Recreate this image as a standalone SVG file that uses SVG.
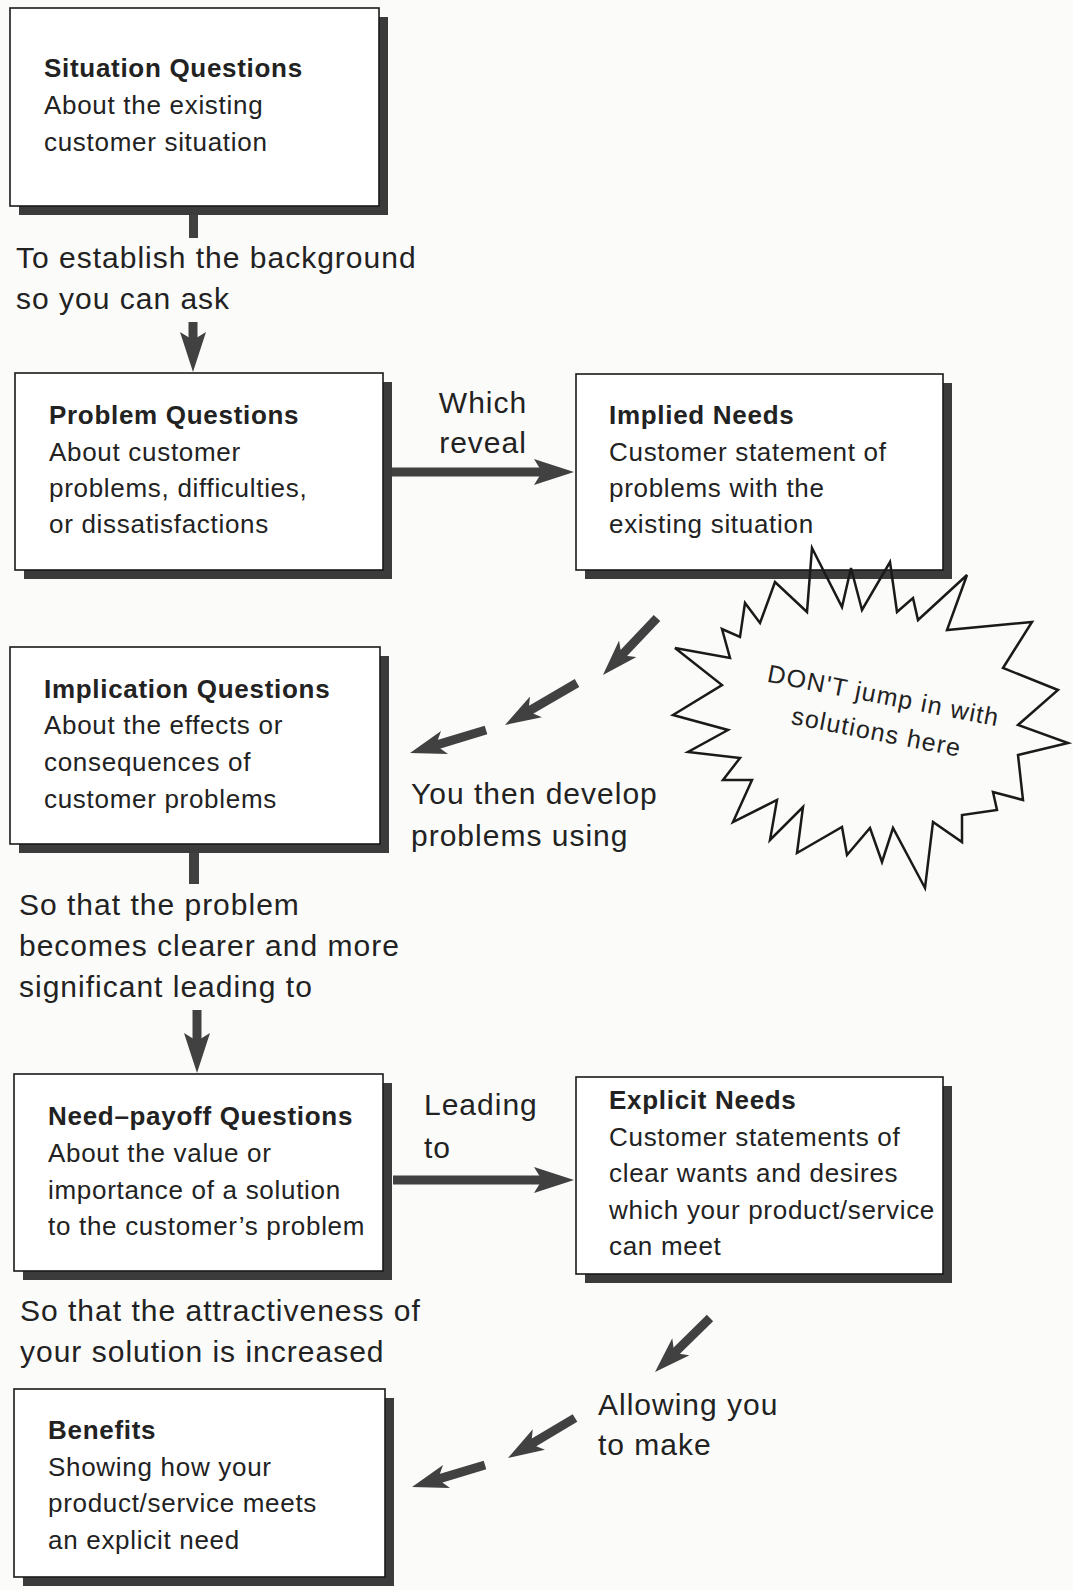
<svg xmlns="http://www.w3.org/2000/svg" width="1073" height="1590" viewBox="0 0 1073 1590">
<style>
.bg{fill:#fbfbf9}
.shadow{fill:#3b3b3b}
.box{fill:#ffffff;stroke:#1a1a1a;stroke-width:1.6}
.t{font-family:"Liberation Sans",Arial,sans-serif;font-size:26px;fill:#222;letter-spacing:0.7px}
.b{font-weight:bold}
.lbl{font-family:"Liberation Sans",Arial,sans-serif;font-size:30px;fill:#222;letter-spacing:1px}
.conn{stroke:#414141;stroke-width:9;fill:none;stroke-linecap:butt}
.big{marker-end:url(#ah)}
.small{marker-end:url(#ahs)}
.bar{fill:#414141}
.burst{fill:none;stroke:#1a1a1a;stroke-width:2.5;stroke-linejoin:miter}
.bt{font-family:"Liberation Sans",Arial,sans-serif;font-size:25px;fill:#222;letter-spacing:1.2px}
</style>
<defs>
<marker id="ah" markerUnits="userSpaceOnUse" viewBox="0 0 40 26" markerWidth="40" markerHeight="26" refX="13" refY="13" orient="auto">
<path d="M0,0 L40,13 L0,26 L8,13 Z" fill="#414141"/>
</marker>
<marker id="ahs" markerUnits="userSpaceOnUse" viewBox="0 0 36 24" markerWidth="36" markerHeight="24" refX="14" refY="12" orient="auto">
<path d="M0,0 L36,12 L0,24 L9,12 Z" fill="#414141"/>
</marker>
</defs>
<rect class="bg" x="0" y="0" width="1073" height="1590"/>

<g id="connectors">
<rect class="bar" x="189" y="206" width="9" height="32"/>
<line class="conn big" x1="193" y1="322" x2="193" y2="345"/>
<line class="conn big" x1="392" y1="472" x2="547" y2="472"/>
<line class="conn small" x1="657" y1="618" x2="618.1" y2="659"/>
<line class="conn small" x1="577" y1="683" x2="524" y2="713.9"/>
<line class="conn small" x1="486" y1="730" x2="431.1" y2="746.6"/>
<rect class="bar" x="189" y="844" width="10" height="40"/>
<line class="conn big" x1="197" y1="1010" x2="197" y2="1046"/>
<line class="conn big" x1="393" y1="1180" x2="547" y2="1180"/>
<line class="conn small" x1="710" y1="1318" x2="670.7" y2="1356.6"/>
<line class="conn small" x1="575" y1="1418" x2="526.9" y2="1446.7"/>
<line class="conn small" x1="485" y1="1465" x2="433.1" y2="1480.6"/>
</g>

<g id="situation">
<rect class="shadow" x="19" y="17" width="369" height="198"/>
<rect class="box" x="10" y="8" width="369" height="198"/>
<text class="t b" x="44" y="77">Situation Questions</text>
<text class="t" x="44" y="114">About the existing</text>
<text class="t" x="44" y="151">customer situation</text>
</g>

<g id="problem">
<rect class="shadow" x="24" y="382" width="368" height="197"/>
<rect class="box" x="15" y="373" width="368" height="197"/>
<text class="t b" x="49" y="424">Problem Questions</text>
<text class="t" x="49" y="461">About customer</text>
<text class="t" x="49" y="497">problems, difficulties,</text>
<text class="t" x="49" y="533">or dissatisfactions</text>
</g>

<g id="implied">
<rect class="shadow" x="585" y="383" width="367" height="196"/>
<rect class="box" x="576" y="374" width="367" height="196"/>
<text class="t b" x="609" y="424">Implied Needs</text>
<text class="t" x="609" y="461">Customer statement of</text>
<text class="t" x="609" y="497">problems with the</text>
<text class="t" x="609" y="533">existing situation</text>
</g>

<g id="implication">
<rect class="shadow" x="19" y="656" width="370" height="197"/>
<rect class="box" x="10" y="647" width="370" height="197"/>
<text class="t b" x="44" y="698">Implication Questions</text>
<text class="t" x="44" y="734">About the effects or</text>
<text class="t" x="44" y="771">consequences of</text>
<text class="t" x="44" y="808">customer problems</text>
</g>

<g id="needpayoff">
<rect class="shadow" x="23" y="1083" width="369" height="197"/>
<rect class="box" x="14" y="1074" width="369" height="197"/>
<text class="t b" x="48" y="1125">Need–payoff Questions</text>
<text class="t" x="48" y="1162">About the value or</text>
<text class="t" x="48" y="1199">importance of a solution</text>
<text class="t" x="48" y="1235">to the customer’s problem</text>
</g>

<g id="explicit">
<rect class="shadow" x="585" y="1086" width="367" height="197"/>
<rect class="box" x="576" y="1077" width="367" height="197"/>
<text class="t b" x="609" y="1109">Explicit Needs</text>
<text class="t" x="609" y="1146">Customer statements of</text>
<text class="t" x="609" y="1182">clear wants and desires</text>
<text class="t" x="609" y="1219">which your product/service</text>
<text class="t" x="609" y="1255">can meet</text>
</g>

<g id="benefits">
<rect class="shadow" x="23" y="1398" width="371" height="188"/>
<rect class="box" x="14" y="1389" width="371" height="188"/>
<text class="t b" x="48" y="1439">Benefits</text>
<text class="t" x="48" y="1476">Showing how your</text>
<text class="t" x="48" y="1512">product/service meets</text>
<text class="t" x="48" y="1549">an explicit need</text>
</g>

<g id="callout">
<polygon class="burst" points="675,648 730,658 722,629 740,637 745,603 760,623 775,582 807,612 812,548 842,607 851,568 862,610 890,562 897,612 913,598 918,620 967,575 947,630 1032,622 1003,668 1058,690 1018,725 1068,743 1018,755 1023,800 993,792 997,810 962,815 962,842 933,822 925,888 893,828 882,862 870,828 847,855 842,827 797,853 803,807 770,840 777,800 733,822 752,780 723,780 740,758 688,752 728,730 673,715 722,685"/>
<g transform="translate(882,704) rotate(11)">
<text class="bt" x="0" y="0" text-anchor="middle">DON'T jump in with</text>
<text class="bt" x="0" y="37" text-anchor="middle">solutions here</text>
</g>
</g>

<g id="labels">
<text class="lbl" x="16" y="268">To establish the background</text>
<text class="lbl" x="16" y="309">so you can ask</text>
<text class="lbl" x="483" y="413" text-anchor="middle">Which</text>
<text class="lbl" x="483" y="453" text-anchor="middle">reveal</text>
<text class="lbl" x="411" y="804">You then develop</text>
<text class="lbl" x="411" y="846">problems using</text>
<text class="lbl" x="19" y="915">So that the problem</text>
<text class="lbl" x="19" y="956">becomes clearer and more</text>
<text class="lbl" x="19" y="997">significant leading to</text>
<text class="lbl" x="424" y="1115">Leading</text>
<text class="lbl" x="424" y="1158">to</text>
<text class="lbl" x="20" y="1321">So that the attractiveness of</text>
<text class="lbl" x="20" y="1362">your solution is increased</text>
<text class="lbl" x="598" y="1415">Allowing you</text>
<text class="lbl" x="598" y="1455">to make</text>
</g>
</svg>
